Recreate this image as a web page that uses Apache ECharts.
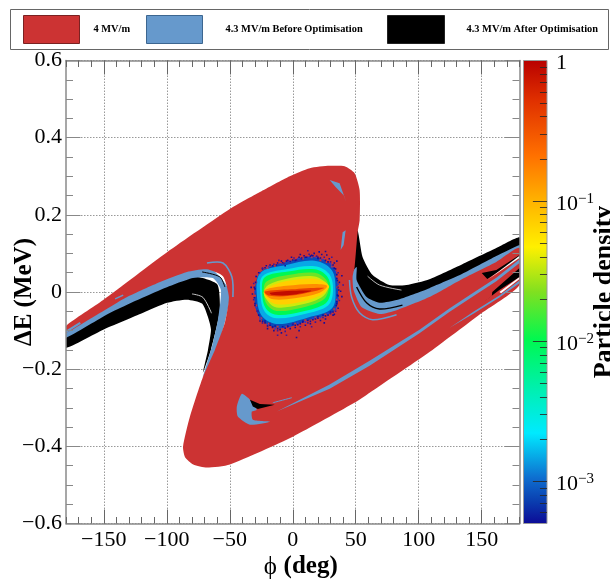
<!DOCTYPE html>
<html>
<head>
<meta charset="utf-8">
<style>html,body{margin:0;padding:0;background:#fff}#c{width:610px;height:581px}</style>
<script src="https://cdn.jsdelivr.net/npm/echarts@6/dist/echarts.min.js"></script>
</head>
<body>
<div id="c"></div>
<script>
// ---- Tick values ----
const xMajor = [-150, -100, -50, 0, 50, 100, 150];
const colorbarMajor = [1, 0.1, 0.01, 0.001];
const colorbarMinor = [0.9,0.8,0.7,0.6,0.5,0.4,0.3,0.2,0.09,0.08,0.07,0.06,0.05,0.04,0.03,0.02,0.009,0.008,0.007,0.006,0.005,0.004,0.003,0.002,0.0009,0.0008,0.0007,0.0006];
const densityMin = 0.0005, densityMax = 1;
// ---- Series names ----
const nameRed = '4 MV/m', nameBlue = '4.3 MV/m Before Optimisation', nameBlack = '4.3 MV/m After Optimisation';
// ---- Phase-space regions: [phi (deg), dE (MeV)] ----
const redRegion = [[-180,-0.088],[-150.5,-0.021],[-99.8,0.103],[-49.9,0.215],[-26.1,0.259],[-2.4,0.300],[13.5,0.321],[29.3,0.327],[41.2,0.326],[49.1,0.308],[53.1,0.264],[53.1,0.186],[51.5,0.155],[49.1,0.065],[47.5,0.039],[48.3,0.005],[54.6,-0.039],[68.9,-0.057],[82.4,-0.047],[108.5,-0.013],[134.6,0.034],[161.6,0.078],[180,0.114],[180,0.018],[148.1,-0.059],[110.9,-0.150],[61,-0.261],[50.7,-0.284],[0,-0.375],[-49.9,-0.447],[-68.1,-0.455],[-79,-0.447],[-85.5,-0.428],[-87.1,-0.401],[-81.6,-0.323],[-71.3,-0.220],[-61.8,-0.150],[-53.9,-0.080],[-50.7,-0.013],[-55.4,0.041],[-68.1,0.059],[-84,0.052],[-105.3,0.026],[-131.5,-0.013],[-158.4,-0.065],[-180,-0.106]];
const blueLeft = [[-180,-0.10],[-131.5,-0.005],[-84,0.06],[-68,0.07],[-50,0.0],[-60,-0.15],[-71.3,-0.22],[-69.7,-0.202],[-63.4,-0.132],[-59.4,-0.072],[-57,0.005],[-63.4,0.036],[-79.2,0.036],[-105.3,0.005],[-144.9,-0.054],[-180,-0.119]];
const blackLeft = [[-180,-0.11],[-145,-0.05],[-105,0.01],[-79,0.04],[-60,0.02],[-58,-0.05],[-65,-0.15],[-71.3,-0.209],[-67.3,-0.150],[-64.9,-0.098],[-67.3,-0.065],[-72,-0.03],[-84,-0.02],[-99.8,-0.028],[-118.8,-0.054],[-150.5,-0.098],[-180,-0.145]];
const blackRight = [[51.5,0.160],[55.4,0.091],[63.4,0.044],[76.8,0.018],[90.3,0.018],[108.5,0.033],[134.6,0.072],[161.6,0.114],[180,0.142],[180,0.11],[161.6,0.078],[134.6,0.026],[108.5,-0.021],[82.4,-0.052],[68.9,-0.062],[54.6,-0.044],[46.7,0.005],[45,0.065],[49,0.155]];
const blueRight = [[50.7,0.065],[50.7,0.031],[58.6,-0.013],[68.9,-0.028],[82.4,-0.021],[108.5,0.010],[134.6,0.047],[161.6,0.093],[180,0.122],[180,0.11],[161.6,0.070],[134.6,0.026],[108.5,-0.021],[82.4,-0.052],[68.9,-0.062],[54.6,-0.044],[46.7,0.005],[46,0.044]];
// ---- Blue streaks and patches on top of the red region ----
const blueLongStreak = [[-12.7,-0.310],[29.3,-0.240],[61,-0.178],[100.6,-0.098],[124.3,-0.043],[145.7,0.003],[161.6,0.037],[180,0.085],[180,0.075],[161.6,0.028],[145.7,-0.006],[124.3,-0.052],[100.6,-0.107],[61,-0.191],[29.3,-0.251]];
const blueLowStreak = [[124.3,-0.093],[144,-0.050],[164,-0.009],[180,0.030],[180,0.023],[164,-0.014],[144,-0.055]];
const blueCrescent = [[-40.4,-0.264],[-44.4,-0.297],[-43.6,-0.323],[-34,-0.344],[-18.2,-0.336],[-31.7,-0.331],[-32.5,-0.310],[-28.5,-0.305],[-34,-0.279]];
const blueTopArc = [[29.3,0.290],[37.2,0.282],[42.8,0.230],[40.4,0.251],[34,0.272]];
const blueMidArc = [[42,0.160],[40.4,0.122],[38,0.109],[39.6,0.155]];
const blueThinRight = [[45,0.031],[46.7,-0.013],[53,-0.054],[63.4,-0.072],[82.4,-0.059]];
const blueThinLeft = [[-68.1,0.075],[-55.4,0.075],[-48.3,0.039],[-47.5,-0.013]];
const blueDash1 = [[-141,-0.018],[-134.6,-0.008]];
const blueDash2 = [[-180,-0.103],[-168.7,-0.08]];
const blueDash3 = [[-15.8,-0.287],[-0.8,-0.274]];
// ---- Black wedges and white slits ----
const blackWedge1 = [[150,0.049],[161.6,0.057],[180,0.096],[180,0.088],[154.4,0.034]];
const blackWedge2 = [[158.4,0],[180,0.062],[180,0.039],[164,0.005],[144,-0.044],[158,-0.01]];
const blackCrescent = [[-34,-0.279],[-26.1,-0.290],[-14.3,-0.292],[-27.7,-0.303],[-31.7,-0.297]];
const blackThinLeft = [[-72,0.052],[-57.8,0.039],[-53.9,0.013]];
const blackThinRight = [[50.7,0.013],[58.6,-0.028],[68.9,-0.044],[87.1,-0.034]];
const whiteSlit1 = [[154.4,0.031],[180,0.094],[180,0.088]];
const whiteSlit2 = [[164,0],[180,0.039],[180,0.034],[165.4,-0.003]];
const whiteThinLeft = [[-80,-0.005],[-71.3,-0.014],[-64.5,-0.055]];
const whiteThinRight = [[59.4,0.041],[68.9,0.018],[86.3,0.005]];
// ---- Particle density contours ----
const heatLevels = [0.0008,0.0015,0.003,0.01,0.02,0.035,0.07,0.15,0.4,0.85];
const heatContours = [
 [[-23.5,0.057],[-5,0.078],[16.1,0.091],[32,0.066],[35.9,0.005],[33.3,-0.047],[13.5,-0.072],[-10.3,-0.094],[-24.8,-0.072],[-30.1,-0.029],[-28.8,0.031]],
 [[-26.1,0.048],[-5,0.070],[17.4,0.081],[30.9,0.057],[34,0.005],[31.2,-0.042],[12.2,-0.066],[-11.6,-0.083],[-24,-0.064],[-28.2,-0.021]],
 [[-24,0.041],[-5,0.059],[17.4,0.067],[28.8,0.047],[32,0.005],[28,-0.035],[9.5,-0.057],[-12.9,-0.068],[-22.2,-0.051],[-25.6,-0.008]],
 [[-22.2,0.038],[-3.7,0.053],[17.4,0.059],[27.2,0.041],[30.1,0.005],[26.2,-0.029],[6.9,-0.051],[-12.9,-0.059],[-21.4,-0.042],[-24.3,-0.003]],
 [[-20.8,0.027],[-3.7,0.044],[17.4,0.050],[26.2,0.033],[28.5,0.007],[24,-0.021],[5.6,-0.042],[-12.9,-0.049],[-20.3,-0.034],[-23,-0.002]],
 [[-19.5,0.018],[-3.7,0.035],[16.1,0.041],[25.4,0.027],[28,0.01],[22.7,-0.014],[5,-0.034],[-12.9,-0.04],[-19.5,-0.025],[-23,-0.002]],
 [[-18.2,0.014],[-3.7,0.029],[16.1,0.035],[26.2,0.024],[28.8,0.012],[21.4,-0.01],[3.4,-0.028],[-12.9,-0.032],[-19.5,-0.021],[-23,-0.002]],
 [[-22.2,0.005],[-5,0.016],[16.1,0.021],[27.2,0.016],[21.4,-0.002],[1.6,-0.016],[-15.6,-0.019],[-21.4,-0.008]],
 [[-22.2,0.001],[-1,0.007],[24.6,0.011],[18.8,0.003],[-2.4,-0.01],[-19.5,-0.009]],
 [[-18.2,-0.002],[0.3,0.003],[14.8,0.003],[-2.4,-0.008],[-16.9,-0.007]]
];
const heatSpeckles = [[-24,.062],[-21,.068],[-18,.07],[-15,.072],[-12,.075],[-9,.08],[-7,.074],[-4,.082],[-2,.079],[1,.088],[3,.083],[5,.09],[7,.085],[9,.094],[11,.09],[13,.098],[15,.095],[17,.1],[19,.093],[21,.104],[23,.097],[25,.09],[27,.096],[29,.086],[31,.09],[33,.075],[35,.08],[12,.107],[26,.105],[-1,.09],[-11,.082],[6,.097],[20,.09],[30,.078],[-6,.068],
 [34,.06],[36,.05],[35,.035],[37,.025],[36,.012],[38,.002],[36,-.01],[37,-.022],[35,-.03],[36,-.042],[34,-.05],[33,-.058],[39,-.012],[40,.018],[39,.042],
 [-29,.04],[-31,.022],[-30,.008],[-32,-.005],[-31,-.02],[-30,-.035],[-33,.012],[-28,-.05],[-27,.05],
 [-26,-.075],[-24,-.08],[-22,-.075],[-20,-.088],[-18,-.082],[-16,-.092],[-14,-.088],[-12,-.1],[-10,-.097],[-8,-.09],[-6,-.102],[-4,-.088],[-2,-.095],[0,-.082],[2,-.092],[4,-.085],[6,-.09],[8,-.078],[10,-.086],[12,-.08],[14,-.082],[16,-.072],[18,-.078],[20,-.068],[22,-.074],[24,-.066],[26,-.07],[28,-.06],[30,-.056],[32,-.06],[-15,-.1],[-5,-.112],[-9,-.106],[5,-.1],[15,-.09],[25,-.08],[-20,-.095],[-12,-.112],[3,-.118]];
const heatEdgeDots = [[-26,.05],[-24,.06],[-22,.063],[-19,.066],[-16,.068],[-13,.07],[-10,.073],[-8,.076],[-5,.08],[-3,.08],[0,.083],[2,.082],[4,.086],[7,.088],[10,.09],[12,.09],[14,.093],[16,.094],[18,.09],[20,.087],[22,.088],[24,.084],[26,.082],[28,.078],[30,.073],[32,.07],
 [33,.062],[34,.053],[35,.045],[35.5,.03],[36,.02],[36.5,.005],[35.5,-.008],[36,-.018],[35,-.025],[34.5,-.035],[34,-.045],[32,-.052],[30,-.052],
 [28,-.056],[26,-.062],[24,-.06],[22,-.066],[20,-.064],[18,-.07],[16,-.068],[14,-.076],[12,-.074],[10,-.078],[8,-.076],[6,-.082],[4,-.08],[2,-.086],[0,-.084],[-2,-.088],[-4,-.09],[-6,-.094],[-8,-.092],[-10,-.097],[-12,-.095],[-14,-.095],[-16,-.09],[-18,-.086],[-20,-.085],[-22,-.08],[-24,-.076],
 [-26,-.07],[-27,-.06],[-28,-.05],[-29,-.04],[-30,-.03],[-30.5,-.015],[-30,0],[-30.5,.012],[-29.5,.025],[-29,.04]];
const heatEdgeGaps = [[-20,.062],[-14,.068],[-8,.075],[-2,.08],[3,.085],[8,.087],[15,.09],[22,.082],[27,.078],[31,.066],[35,.04],[35.5,.012],[35,-.02],[33,-.045],[26,-.058],[18,-.066],[10,-.073],[2,-.082],[-5,-.09],[-12,-.09],[-19,-.082],[-25,-.068],[-29,-.035],[-30,-.01],[-29,.025]];
// ---- Rainbow palette ----
const paletteStops = [0,0.05,0.10,0.196,0.29,0.397,0.50,0.597,0.70,0.795,0.913,1];
const paletteColors = ['#0c0a96','#0a3fb0','#0e6fd0','#00eaff','#00f0b0','#00f850','#80e020','#fff000','#ffb000','#ff7000','#e03000','#b80000'];

const SERIF = '"Liberation Serif","Times New Roman",serif';
const RED = '#cc3333', BLUE = '#6699cc', BLACK = '#000000', GRAY = '#8a8a8a', TICK = '#666666';

function hex(c){return [1,3,5].map(i=>parseInt(c.substr(i,2),16));}
function paletteColor(density){
  const f = (Math.log10(density)-Math.log10(densityMin))/(Math.log10(densityMax)-Math.log10(densityMin));
  for(let i=1;i<paletteStops.length;i++){
    if(f<=paletteStops[i]){
      const t=(f-paletteStops[i-1])/(paletteStops[i]-paletteStops[i-1]);
      const a=hex(paletteColors[i-1]),b=hex(paletteColors[i]);
      return 'rgb('+a.map((v,k)=>Math.round(v+(b[k]-v)*t)).join(',')+')';
    }
  }
  return paletteColors[paletteColors.length-1];
}
function poly(name,pts,color,smooth){
  return {type:'custom',name,coordinateSystem:'cartesian2d',clip:true,silent:true,animation:false,
    encode:{x:0,y:1},data:pts,
    renderItem:function(p,api){
      if(p.dataIndex!==0) return null;
      return {type:'polygon',shape:{points:pts.map(q=>api.coord(q)),smooth:smooth||0},style:{fill:color}};
    }};
}
function line(name,pts,color,width){
  return {type:'custom',name,coordinateSystem:'cartesian2d',clip:true,silent:true,animation:false,
    encode:{x:0,y:1},data:pts,
    renderItem:function(p,api){
      if(p.dataIndex!==0) return null;
      return {type:'polyline',shape:{points:pts.map(q=>api.coord(q)),smooth:0.3},style:{stroke:color,lineWidth:width,fill:null}};
    }};
}
function dots(name,pts,colorA,colorB,size){
  return {type:'custom',name,coordinateSystem:'cartesian2d',clip:true,silent:true,animation:false,
    encode:{x:0,y:1},data:pts,
    renderItem:function(p,api){
      const c=api.coord([api.value(0),api.value(1)]);
      return {type:'rect',shape:{x:c[0]-size/2,y:c[1]-size/2,width:size,height:size},style:{fill:p.dataIndex%3?colorA:colorB}};
    }};
}
const series = [
  poly(nameBlack,blackLeft,BLACK,0.2),poly(nameBlack,blackRight,BLACK,0.2),
  poly(nameBlue,blueLeft,BLUE,0.2),poly(nameBlue,blueRight,BLUE,0.2),
  poly(nameRed,redRegion,RED,0.2),
  poly(nameBlue,blueLongStreak,BLUE),poly(nameBlue,blueLowStreak,BLUE),poly(nameBlue,blueCrescent,BLUE,0.2),
  poly(nameBlue,blueTopArc,BLUE),poly(nameBlue,blueMidArc,BLUE),
  line(nameBlue,blueThinRight,BLUE,1.5),line(nameBlue,blueThinLeft,BLUE,1.6),
  line(nameBlue,blueDash1,BLUE,1.5),line(nameBlue,blueDash2,BLUE,2.2),line(nameBlue,blueDash3,BLUE,1),
  poly(nameBlack,blackWedge1,BLACK),poly(nameBlack,blackWedge2,BLACK),poly(nameBlack,blackCrescent,BLACK),
  line(nameBlack,blackThinLeft,BLACK,1),line(nameBlack,blackThinRight,BLACK,1.4),
  poly('slit',whiteSlit1,'#ffffff'),poly('slit',whiteSlit2,'#ffffff'),
  line('slit',whiteThinLeft,'#cccccc',1),line('slit',whiteThinRight,'#bbbbbb',1)
];
heatLevels.forEach((d,i)=>series.push(poly('density',heatContours[i],paletteColor(d),0.35)));
series.push(dots('gaps',heatEdgeGaps,RED,'#a03a6a',2),dots('edge',heatEdgeDots,'#14109c','#2a3ad0',1.6),dots('speckles',heatSpeckles,'#14109c','#3a1a9c',1.6));
// Colour bar
series.push({type:'custom',name:'colorbar',coordinateSystem:'cartesian2d',xAxisIndex:5,yAxisIndex:3,silent:true,animation:false,
  encode:{x:0,y:1},data:[[0,densityMax],[1,densityMin]],
  renderItem:function(p,api){
    if(p.dataIndex!==0) return null;
    const a=api.coord([0,densityMax]),b=api.coord([1,densityMin]);
    return {type:'rect',shape:{x:a[0],y:a[1],width:b[0]-a[0],height:b[1]-a[1]},
      style:{stroke:'#9a9a9a',lineWidth:1,fill:new echarts.graphic.LinearGradient(0,1,0,0,paletteStops.map((s,i)=>({offset:s,color:paletteColors[i]})))}};
  }});
function barTicks(values,frac,name){
  return {type:'custom',name,coordinateSystem:'cartesian2d',xAxisIndex:5,yAxisIndex:3,silent:true,animation:false,
    encode:{x:0,y:1},data:values.map(v=>[1,v]),
    renderItem:function(p,api){
      const c=api.coord([1,api.value(1)]),o=api.coord([1-frac,api.value(1)]);
      return {type:'line',shape:{x1:c[0],y1:Math.round(c[1])+0.5,x2:o[0],y2:Math.round(c[1])+0.5},style:{stroke:'rgba(40,40,40,0.85)',lineWidth:1}};
    }};
}
series.push(barTicks(colorbarMinor,0.3,'barMinor'),barTicks(colorbarMajor.filter(v=>v<1),0.6,'barMajor'));

const label = {fontFamily:SERIF,fontSize:22,color:'#000'};
const minus = v=>String(+(+v).toFixed(1)).replace('-','\u2212');
const hideAll = {axisLabel:{show:false},splitLine:{show:false}};
const lineStyle = {show:true,onZero:false,lineStyle:{color:GRAY,width:1.5}};
const noLine = {show:false,onZero:false};
function xa(position,values,len,z,extra){
  return Object.assign({type:'value',gridIndex:0,min:-180,max:180,position,z,
    axisLine:lineStyle,axisTick:{show:true,inside:true,length:len,lineStyle:{color:TICK,width:1},customValues:values},
    axisLabel:{show:false},splitLine:{show:false}},extra||{});
}
const legendText = pad=>({fontFamily:SERIF,fontWeight:'bold',fontSize:10.4,color:'#000',padding:[0,0,0,pad]});
const option = {
  backgroundColor:'#fff',animation:false,
  grid:[{left:66,top:60.5,width:453.5,height:463,outerBoundsMode:'none'},{left:523.5,top:60.5,width:23.5,height:463,outerBoundsMode:'none'}],
  graphic:[{type:'rect',shape:{x:10.5,y:9.5,width:598,height:40},style:{fill:'#fff',stroke:'#666',lineWidth:1},z:0}],
  legend:[
    {data:[{name:nameRed,icon:'rect',itemStyle:{color:RED,borderColor:'#7a2222',borderWidth:1}}],left:23,top:15,padding:0,itemWidth:56,itemHeight:28,selectedMode:false,textStyle:legendText(9)},
    {data:[{name:nameBlue,icon:'rect',itemStyle:{color:BLUE,borderColor:'#3c6690',borderWidth:1}}],left:146,top:15,padding:0,itemWidth:56,itemHeight:28,selectedMode:false,textStyle:legendText(18)},
    {data:[{name:nameBlack,icon:'rect',itemStyle:{color:BLACK,borderColor:'#222',borderWidth:1}}],left:387,top:15,padding:0,itemWidth:57,itemHeight:28,selectedMode:false,textStyle:legendText(17)}
  ],
  xAxis:[
    xa('bottom',xMajor,14,5,{axisLabel:{show:true,customValues:xMajor,formatter:minus,margin:6,...label},
      name:'{p|\u03D5}  {b|(deg)}',nameLocation:'middle',nameGap:31,nameMoveOverlap:false,
      nameTextStyle:{padding:[0,0,0,16],rich:{p:{fontFamily:SERIF,fontSize:25,color:'#000'},b:{fontFamily:SERIF,fontSize:25,fontWeight:'bold',color:'#000'}}}}),
    {type:'value',gridIndex:0,min:-180,max:180,interval:10,position:'bottom',z:5,axisLine:noLine,axisTick:{show:true,inside:true,length:6.5,lineStyle:{color:TICK,width:1}},...hideAll},
    xa('top',xMajor,14,5),
    {type:'value',gridIndex:0,min:-180,max:180,interval:10,position:'top',z:5,axisLine:noLine,axisTick:{show:true,inside:true,length:6.5,lineStyle:{color:TICK,width:1}},...hideAll},
    {type:'value',gridIndex:0,min:-180,max:180,position:'bottom',z:0,axisLine:noLine,axisTick:{show:false,customValues:xMajor},axisLabel:{show:false,customValues:xMajor},
      splitLine:{show:true,lineStyle:{color:'#999',type:[1.5,1.5],width:1}}},
    {type:'value',gridIndex:1,min:0,max:1,show:false}
  ],
  yAxis:[
    {type:'value',gridIndex:0,min:-0.6,max:0.6,interval:0.2,position:'left',z:5,axisLine:lineStyle,
      axisTick:{show:true,inside:true,length:14.5,lineStyle:{color:'#888',width:1}},
      minorTick:{show:true,splitNumber:4,length:7,lineStyle:{color:'#888',width:1}},
      axisLabel:{formatter:minus,margin:4,padding:[4,0,0,0],...label},splitLine:{show:false},
      name:'\u0394E (MeV)',nameLocation:'middle',nameGap:29,nameRotate:90,nameMoveOverlap:false,
      nameTextStyle:{fontFamily:SERIF,fontSize:25,fontWeight:'bold',color:'#000'}},
    {type:'value',gridIndex:0,min:-0.6,max:0.6,interval:0.2,position:'right',z:5,axisLine:lineStyle,
      axisTick:{show:true,inside:true,length:14.5,lineStyle:{color:'#888',width:1}},
      minorTick:{show:true,splitNumber:4,length:7,lineStyle:{color:'#888',width:1}},...hideAll},
    {type:'value',gridIndex:0,min:-0.6,max:0.6,interval:0.2,position:'left',z:0,axisLine:noLine,axisTick:{show:false},axisLabel:{show:false},
      splitLine:{show:true,lineStyle:{color:'#999',type:[1.5,1.5],width:1}}},
    {type:'log',gridIndex:1,min:densityMin,max:densityMax,position:'right',z:5,axisLine:noLine,axisTick:{show:false},splitLine:{show:false},
      axisLabel:{customValues:colorbarMajor,margin:9,padding:[6,0,0,0],...label,
        formatter:function(v){const k=Math.round(Math.log10(v));return k===0?'1':'10{s|\u2212'+(-k)+'}';},
        rich:{s:{fontFamily:SERIF,fontSize:15,color:'#000',verticalAlign:'top',padding:[0,0,10,0]}}},
      name:'Particle density',nameLocation:'middle',nameGap:44,nameRotate:90,nameMoveOverlap:false,
      nameTextStyle:{fontFamily:SERIF,fontSize:26,fontWeight:'bold',color:'#000'}}
  ],
  series
};
const chart = echarts.init(document.getElementById('c'),null,{renderer:'canvas'});
chart.setOption(option);
</script>
</body>
</html>
